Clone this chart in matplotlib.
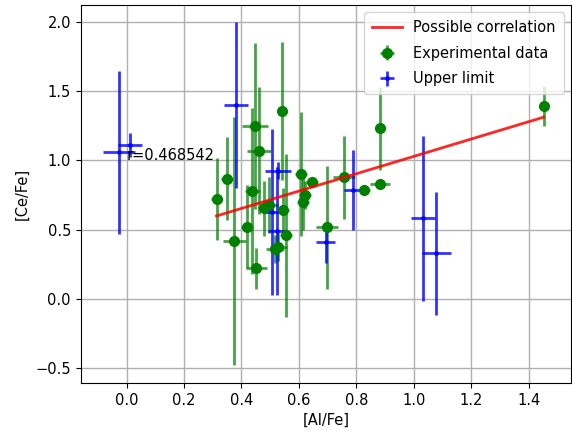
import numpy as np
import matplotlib
matplotlib.use("Agg")
import matplotlib.pyplot as plt

# ==============================
# DATA
# ==============================
# experimental data: [Al/Fe], [Ce/Fe] and their errors
exp_x = [0.313, 0.350, 0.375, 0.420, 0.438, 0.447, 0.462, 0.451, 0.497, 0.479,
         0.540, 0.546, 0.555, 0.528, 0.517, 0.607, 0.646, 0.621, 0.615, 0.697,
         0.758, 0.827, 0.883, 0.883, 1.452]
exp_y = [0.721, 0.868, 0.417, 0.520, 0.781, 1.249, 1.070, 0.220, 0.677, 0.654,
         1.357, 0.641, 0.460, 0.376, 0.357, 0.900, 0.846, 0.750, 0.700, 0.516,
         0.878, 0.786, 0.829, 1.232, 1.393]
exp_xerr = [0.020, 0.020, 0.040, 0.020, 0.025, 0.044, 0.042, 0.037, 0.030, 0.020,
            0.010, 0.020, 0.020, 0.030, 0.030, 0.020, 0.020, 0.020, 0.020, 0.038,
            0.038, 0.020, 0.035, 0.010, 0.010]
exp_yerr = [0.30, 0.30, 0.90, 0.30, 0.60, 0.60, 0.46, 0.15, 0.20, 0.20,
            0.50, 0.16, 0.59, 0.10, 0.10, 0.45, 0.03, 0.10, 0.20, 0.446,
            0.30, 0.02, 0.02, 0.30, 0.145]

# upper limits
up_x = [-0.026, 0.012, 0.380, 0.528, 0.505, 0.523, 0.790, 0.694, 1.031, 1.078]
up_y = [1.059, 1.111, 1.398, 0.926, 0.630, 0.490, 0.786, 0.408, 0.581, 0.328]
up_xerr = [0.056, 0.043, 0.042, 0.046, 0.030, 0.030, 0.033, 0.033, 0.042, 0.050]
up_yerr = [0.59, 0.087, 0.60, 0.06, 0.60, 0.46, 0.29, 0.15, 0.595, 0.447]

# fitted line
slope = 0.627
intercept = 0.402
r_value = 0.468542

# ==============================
# PLOT
# ==============================
fig = plt.figure(figsize=(5.72, 4.43), dpi=100)
# the right spine sits at the very edge of the picture
ax = fig.add_axes([0.1411, 0.1354, 0.8573, 0.8533])

xfit = np.array([min(exp_x), max(exp_x)])
ax.plot(xfit, slope * xfit + intercept, color="red", alpha=0.85, lw=2,
        label="Possible correlation", zorder=3)

ax.errorbar(exp_x, exp_y, xerr=exp_xerr, yerr=exp_yerr, fmt="o", color="green",
            ecolor=(0.0, 0.5, 0.0, 0.72), elinewidth=2, markersize=7,
            label="Experimental data", zorder=2)

ax.errorbar(up_x, up_y, xerr=up_xerr, yerr=up_yerr, fmt=".", color=(0, 0, 1, 0.8),
            elinewidth=2, markersize=5, label="Upper limit", zorder=2)

ax.text(0, 1, "r=%f" % r_value, fontsize=10.5)

ax.set_xlim(-0.160, 1.548)
ax.set_ylim(-0.61, 2.124)
ax.set_xticks(np.arange(0, 1.41, 0.2))
ax.set_yticks(np.arange(-0.5, 2.01, 0.5))
ax.grid(True, color="#b0b0b0", lw=1)
ax.set_axisbelow(True)
ax.tick_params(labelsize=10.5)
ax.set_xlabel("[Al/Fe]", fontsize=10.5)
ax.set_ylabel("[Ce/Fe]", fontsize=10.5)
ax.legend(loc="upper right", fontsize=10.5, labelspacing=0.72, borderpad=0.55)

fig.savefig("out.png", dpi=100)
